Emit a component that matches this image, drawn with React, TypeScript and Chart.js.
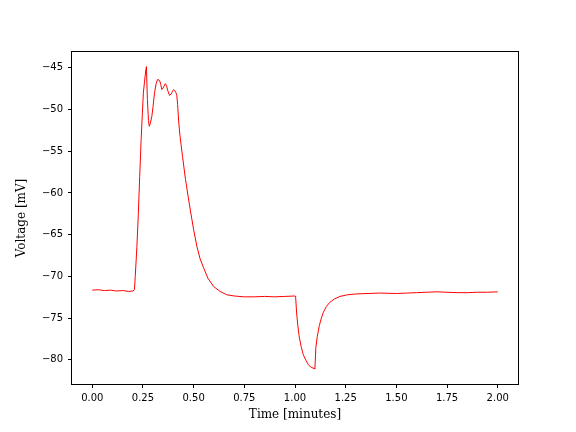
import React, { useEffect, useRef } from "react";
import { Chart, registerables } from "chart.js";

Chart.register(...registerables);

const timeMin: number[] = [
  0.0, 0.03, 0.06, 0.09, 0.12, 0.15, 0.18, 0.2, 0.208, 0.212, 0.22, 0.227, 0.234, 0.241, 0.247,
  0.252, 0.258, 0.263, 0.267, 0.272, 0.277, 0.281, 0.286, 0.294, 0.3, 0.307, 0.315, 0.322, 0.332,
  0.338, 0.343, 0.35, 0.36, 0.366, 0.372, 0.381, 0.39, 0.396, 0.401, 0.406, 0.412, 0.417, 0.421,
  0.426, 0.433, 0.445, 0.46, 0.474, 0.486, 0.5, 0.516, 0.532, 0.548, 0.57, 0.598, 0.63, 0.663,
  0.7, 0.75, 0.8, 0.85, 0.9, 0.95, 1.0, 1.003, 1.008, 1.014, 1.02, 1.03, 1.041, 1.055, 1.066,
  1.08, 1.095, 1.098, 1.103, 1.11, 1.12, 1.13, 1.14, 1.155, 1.172, 1.195, 1.222, 1.26, 1.304,
  1.36, 1.42, 1.5, 1.55, 1.6, 1.65, 1.7, 1.75, 1.8, 1.85, 1.9, 1.95, 2.0,
];

const voltageMv: number[] = [
  -71.65, -71.6, -71.7, -71.65, -71.75, -71.7, -71.8, -71.75, -71.6, -70.0, -66.5, -62.6, -58.0,
  -53.6, -50.5, -48.0, -46.6, -45.5, -44.85, -48.8, -51.3, -52.0, -51.7, -50.8, -49.6, -48.0,
  -46.9, -46.4, -46.5, -47.0, -47.6, -47.4, -46.9, -47.1, -47.7, -48.3, -48.1, -47.8, -47.6,
  -47.7, -47.95, -48.3, -49.4, -51.4, -53.2, -55.6, -58.4, -60.6, -62.4, -64.4, -66.4, -67.9,
  -68.9, -70.2, -71.2, -71.8, -72.2, -72.35, -72.45, -72.45, -72.4, -72.45, -72.4, -72.35, -72.4,
  -74.4, -75.9, -77.1, -78.4, -79.4, -80.1, -80.6, -80.9, -81.05, -81.1, -78.5, -77.2, -75.9,
  -75.0, -74.3, -73.6, -73.1, -72.7, -72.4, -72.2, -72.1, -72.05, -72.0, -72.05, -72.0, -71.95,
  -71.9, -71.85, -71.9, -71.95, -71.95, -71.9, -71.9, -71.85,
];

const xTicks: number[] = [0, 0.25, 0.5, 0.75, 1.0, 1.25, 1.5, 1.75, 2.0];
const yTicks: number[] = [-80, -75, -70, -65, -60, -55, -50, -45];

const xLabel = "Time [minutes]";
const yLabel = "Voltage [mV]";

const boxPlugin = {
  id: "boxPlugin",
  afterDraw(chart: any) {
    const { ctx, chartArea } = chart;
    ctx.save();
    ctx.strokeStyle = "#000";
    ctx.lineWidth = 1;
    ctx.strokeRect(
      Math.round(chartArea.left) - 0.5,
      Math.round(chartArea.top) - 0.5,
      Math.round(chartArea.right - chartArea.left) + 1,
      Math.round(chartArea.bottom - chartArea.top) + 1
    );
    ctx.restore();
  },
};

export default function App() {
  const ref = useRef<HTMLCanvasElement | null>(null);

  useEffect(() => {
    if (!ref.current) return;
    const data = timeMin.map((t, i) => ({ x: t, y: voltageMv[i] }));
    const tickFont = { family: "'DejaVu Sans'", size: 10 };
    const titleFont = { family: "'DejaVu Serif'", size: 12 };
    const chart = new Chart(ref.current, {
      type: "line",
      data: {
        datasets: [
          {
            data,
            borderColor: "#ff0000",
            borderWidth: 1,
            pointRadius: 0,
            tension: 0,
            fill: false,
          },
        ],
      },
      options: {
        animation: false,
        responsive: false,
        devicePixelRatio: 1,
        layout: { padding: { top: 52, right: 58, left: 0, bottom: 0 } },
        plugins: { legend: { display: false }, tooltip: { enabled: false } },
        scales: {
          x: {
            type: "linear",
            min: -0.1,
            max: 2.1,
            afterBuildTicks: (scale: any) => {
              scale.ticks = xTicks.map((v) => ({ value: v }));
            },
            afterFit: (scale: any) => {
              scale.height = 48;
            },
            ticks: {
              color: "#000",
              font: tickFont,
              padding: 4,
              maxRotation: 0,
              autoSkip: false,
              callback: (v: any) => Number(v).toFixed(2),
            },
            grid: {
              display: true,
              drawOnChartArea: false,
              drawTicks: true,
              tickLength: 4,
              tickColor: "#000",
            },
            border: { display: false },
            title: {
              display: true,
              text: xLabel,
              color: "#000",
              font: titleFont,
              padding: { top: 0, bottom: 10 },
            },
          },
          y: {
            type: "linear",
            min: -82.9,
            max: -43.1,
            afterBuildTicks: (scale: any) => {
              scale.ticks = yTicks.map((v) => ({ value: v }));
            },
            afterFit: (scale: any) => {
              scale.width = 72;
            },
            ticks: {
              color: "#000",
              font: tickFont,
              padding: 5,
              autoSkip: false,
              callback: (v: any) => {
                const n = Number(v);
                return n < 0 ? "\u2212" + Math.abs(n).toFixed(0) : n.toFixed(0);
              },
            },
            grid: {
              display: true,
              drawOnChartArea: false,
              drawTicks: true,
              tickLength: 4,
              tickColor: "#000",
            },
            border: { display: false },
            title: {
              display: true,
              text: yLabel,
              color: "#000",
              font: titleFont,
              padding: { top: 15, bottom: 0 },
            },
          },
        },
      },
      plugins: [boxPlugin],
    });
    return () => chart.destroy();
  }, []);

  return (
    <div style={{ position: "absolute", left: 0, top: 0, width: 576, height: 432, background: "#fff" }}>
      <canvas ref={ref} width={576} height={432} style={{ display: "block" }} />
    </div>
  );
}
